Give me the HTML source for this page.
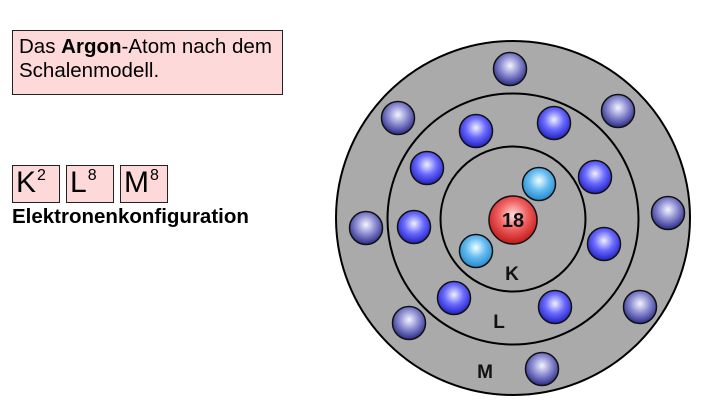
<!DOCTYPE html>
<html><head><meta charset="utf-8"><style>
body{margin:0;width:720px;height:416px;background:#fff;position:relative;overflow:hidden;font-family:"Liberation Sans",sans-serif}
.b{position:absolute;background:#fdd9d9;border:1.5px solid #222;box-sizing:border-box}
.t{position:absolute;left:12px;top:30px;width:271px;height:65px;font-size:20.5px;line-height:24px;padding:4px 0 0 6px;white-space:nowrap}
.k{top:165px;height:38px;font-size:30px;line-height:34px;padding-left:3px;letter-spacing:-1px;overflow:hidden}
.k span{font-size:16px;position:relative;top:-12px;margin-left:2px;line-height:0}
</style></head><body>
<div class="b t">Das <b>Argon</b>-Atom nach dem<br>Schalenmodell.</div>
<div class="b k" style="left:12px;width:48px">K<span>2</span></div>
<div class="b k" style="left:66px;width:48px">L<span>8</span></div>
<div class="b k" style="left:120px;width:48px">M<span>8</span></div>
<div style="position:absolute;left:12px;top:205px;font-size:20.5px;font-weight:bold;white-space:nowrap">Elektronenkonfiguration</div>
<svg width="720" height="416" style="position:absolute;left:0;top:0">
<defs>
<radialGradient id="m" cx="0.5" cy="0.4" r="0.6"><stop offset="0" stop-color="#f4f4ff"/><stop offset="0.5" stop-color="#8a8ad0"/><stop offset="1" stop-color="#2a2a88"/></radialGradient>
<radialGradient id="l" cx="0.5" cy="0.4" r="0.6"><stop offset="0" stop-color="#f0f0ff"/><stop offset="0.5" stop-color="#6a6aff"/><stop offset="1" stop-color="#2020c0"/></radialGradient>
<radialGradient id="k" cx="0.5" cy="0.4" r="0.6"><stop offset="0" stop-color="#f0ffff"/><stop offset="0.5" stop-color="#66bbf0"/><stop offset="1" stop-color="#2288cc"/></radialGradient>
<radialGradient id="n" cx="0.5" cy="0.4" r="0.6"><stop offset="0" stop-color="#ffe0e0"/><stop offset="0.5" stop-color="#f06060"/><stop offset="1" stop-color="#c01818"/></radialGradient>
</defs>
<g stroke="#000" stroke-width="2" fill="#aaaaaa">
<circle cx="513" cy="218" r="177"/>
<circle cx="513" cy="219" r="125.5"/>
<circle cx="513" cy="219" r="72.5"/>
</g>
<g stroke="#111" stroke-width="1.5">
<circle cx="513" cy="220" r="24" fill="url(#n)"/>
<g fill="url(#k)"><circle cx="539" cy="184" r="16.5"/><circle cx="476" cy="251" r="16.5"/></g>
<g fill="url(#l)">
<circle cx="476" cy="131" r="16.5"/><circle cx="554" cy="123" r="16.5"/><circle cx="427" cy="168" r="16.5"/><circle cx="595" cy="177" r="16.5"/>
<circle cx="414" cy="227" r="16.5"/><circle cx="604" cy="244" r="16.5"/><circle cx="454" cy="298" r="16.5"/><circle cx="555" cy="307" r="16.5"/>
</g>
<g fill="url(#m)">
<circle cx="510" cy="69" r="16.5"/><circle cx="398" cy="118" r="16.5"/><circle cx="618" cy="111" r="16.5"/><circle cx="366" cy="228" r="16.5"/>
<circle cx="668" cy="213" r="16.5"/><circle cx="409" cy="323" r="16.5"/><circle cx="640" cy="307" r="16.5"/><circle cx="542" cy="369" r="16.5"/>
</g>
</g>
<g font-family="Liberation Sans" font-weight="bold" font-size="19" text-anchor="middle" fill="#111">
<text x="513" y="227" font-size="20">18</text>
<text x="512" y="280">K</text>
<text x="499" y="328">L</text>
<text x="485" y="378">M</text>
</g>
</svg>
</body></html>
